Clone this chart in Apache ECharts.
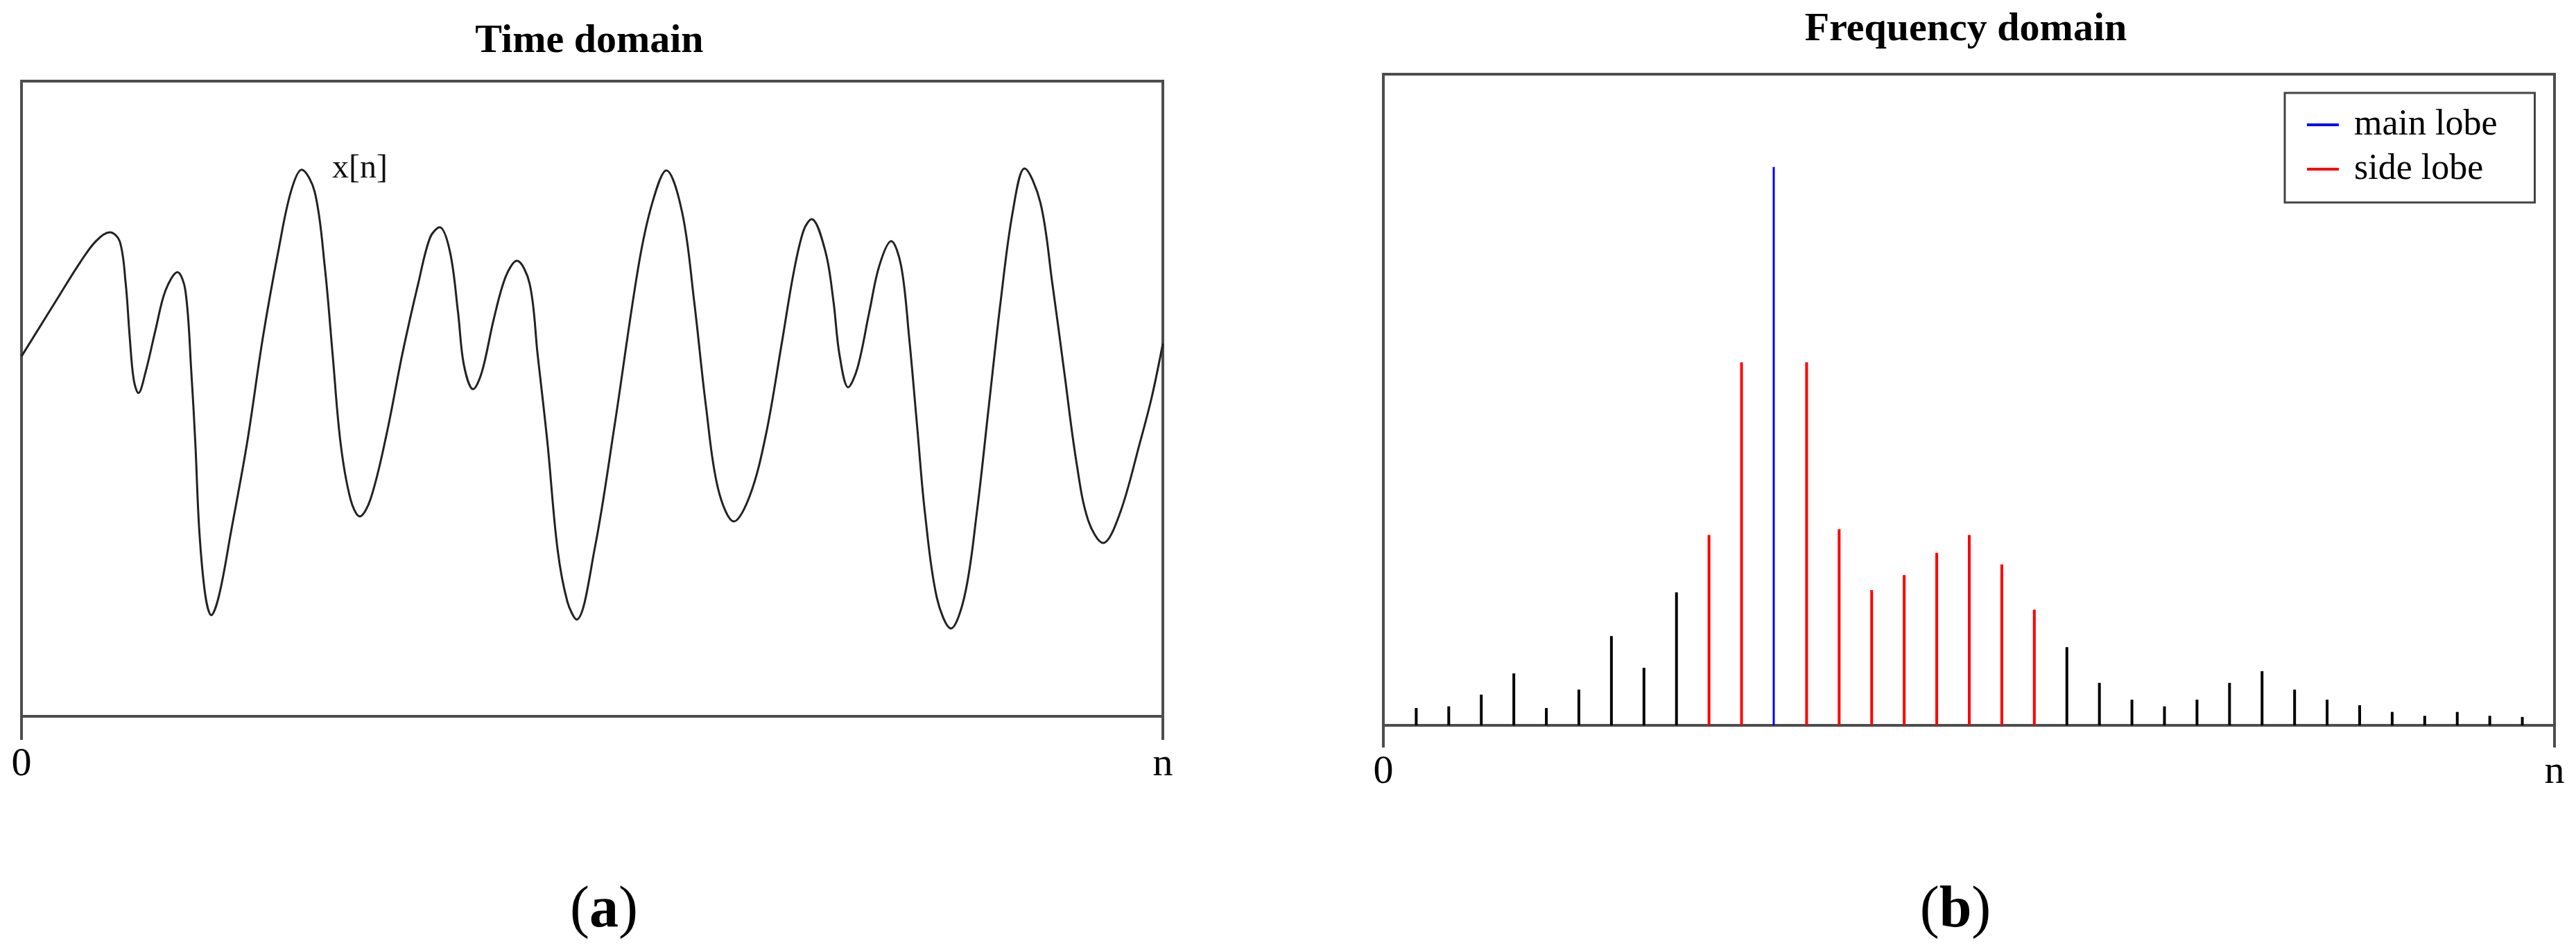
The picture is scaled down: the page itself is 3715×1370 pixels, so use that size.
<!DOCTYPE html>
<html>
<head>
<meta charset="utf-8">
<title>Time domain / Frequency domain</title>
<script src="https://cdn.jsdelivr.net/npm/echarts@6/dist/echarts.min.js"></script>
<style>
  html, body { margin: 0; padding: 0; background: #fff; }
  #chart { width: 3715px; height: 1370px; }
</style>
</head>
<body>
<div id="chart"></div>
<script>
// (a) time-domain signal x[n], sample position 0..200 and amplitude
const timeN = [0, 6.75, 10.24, 13.03, 15.47, 17.21, 18.26, 18.96, 19.65, 20.49,
  21.74, 23.49, 25.23, 27.33, 28.72, 29.76, 30.46, 31.16, 32.20, 33.25,
  34.64, 36.74, 39.53, 42.32, 45.10, 47.20, 49.09, 51.38, 53.13, 54.52,
  55.91, 57.66, 59.27, 61.15, 63.93, 66.72, 69.52, 71.61, 73.28, 75.09,
  76.49, 77.53, 79.14, 80.67, 82.76, 84.85, 86.80, 89.04, 90.44, 92.17,
  93.92, 95.66, 97.26, 100.44, 103.93, 108.12, 110.55, 112.99, 115.78, 117.87,
  119.97, 122.06, 124.85, 127.64, 130.42, 133.21, 135.30, 137.05, 138.45, 140.89,
  142.28, 143.33, 144.86, 146.47, 148.56, 150.31, 152.40, 154.14, 155.53, 156.93,
  158.32, 160.41, 162.86, 165.30, 167.39, 169.48, 171.58, 173.67, 175.76, 178.54,
  180.64, 182.73, 184.82, 186.91, 189.55, 192.48, 195.97, 198.07, 200];
const timeX = [56.9, 66.7, 71.7, 75.1, 76.5, 75.1, 68.4, 60.0, 53.3, 51.1,
  54.4, 61.1, 67.3, 70.2, 67.3, 54.4, 43.2, 29.3, 19.2, 16.0,
  19.2, 29.3, 43.2, 60.0, 74.0, 82.9, 86.4, 82.9, 71.2, 57.2,
  43.2, 34.3, 31.6, 34.3, 44.4, 57.2, 68.4, 75.7, 77.3, 73.4,
  63.9, 55.5, 51.7, 54.4, 62.8, 69.5, 72.0, 68.4, 57.2, 43.2,
  26.5, 18.1, 15.3, 26.5, 46.0, 71.2, 81.2, 86.3, 79.6, 65.6,
  48.8, 36.0, 30.8, 34.9, 44.4, 58.9, 70.1, 76.8, 78.6, 73.4,
  65.6, 57.2, 52.0, 55.0, 63.9, 71.2, 75.1, 71.2, 60.0, 46.0,
  32.1, 18.7, 13.9, 19.2, 32.1, 48.8, 65.6, 79.6, 86.6, 81.2,
  68.4, 54.4, 40.4, 31.0, 27.4, 32.1, 43.2, 50.5, 58.9];

// (b) spectrum: bin index and magnitude (main lobe = 100)
const specBins = [1, 2, 3, 4, 5, 6, 7, 8, 9, 10, 11, 12, 13, 14, 15, 16, 17, 18,
  19, 20, 21, 22, 23, 24, 25, 26, 27, 28, 29, 30, 31, 32, 33, 34, 35];
const specMag = [3.1, 3.4, 5.5, 9.3, 3.1, 6.4, 16.0, 10.3, 23.8, 34.1, 65.0, 100,
  65.0, 35.1, 24.2, 26.9, 30.9, 34.1, 28.8, 20.7, 14.0, 7.6, 4.6, 3.4, 4.6,
  7.6, 9.7, 6.4, 4.6, 3.6, 2.4, 1.7, 2.4, 1.7, 1.5];
const mainLobeBins = [12];
const sideLobeBins = [10, 11, 13, 14, 15, 16, 17, 18, 19, 20];

const serif = 'Liberation Serif';
const frameColor = '#4d4d4d';

const timeData = timeN.map((n, i) => [n, timeX[i]]);
const pick = (test) => specBins
  .map((b, i) => [b, specMag[i]])
  .filter(p => test(p[0]));
const mainData = pick(b => mainLobeBins.includes(b));
const sideData = pick(b => sideLobeBins.includes(b));
const otherData = pick(b => !mainLobeBins.includes(b) && !sideLobeBins.includes(b));

// 0 ... n axis with a tick at each end only
function endAxis(gridIndex, max, labelMargin, tickLen) {
  return {
    type: 'value',
    gridIndex: gridIndex,
    min: 0,
    max: max,
    interval: max,
    axisLine: { show: true, lineStyle: { color: frameColor, width: 4 } },
    axisTick: { show: true, inside: false, length: tickLen, lineStyle: { color: frameColor, width: 4 } },
    axisLabel: {
      show: true,
      margin: labelMargin,
      showMinLabel: true,
      showMaxLabel: true,
      color: '#000',
      fontFamily: serif,
      fontSize: 58,
      formatter: v => (v === 0 ? '0' : 'n')
    },
    splitLine: { show: false }
  };
}

const chart = echarts.init(document.getElementById('chart'), null, { renderer: 'canvas' });

const option = {
  backgroundColor: '#fff',
  animation: false,
  grid: [
    { left: 31, top: 117, width: 1646, height: 916, show: true, borderColor: frameColor, borderWidth: 4 },
    { left: 1995, top: 107, width: 1689, height: 939, show: true, borderColor: frameColor, borderWidth: 4 }
  ],
  xAxis: [
    endAxis(0, 200, 41, 34),
    endAxis(1, 36, 39, 32)
  ],
  yAxis: [
    { type: 'value', gridIndex: 0, min: 0, max: 100.4, show: false },
    { type: 'value', gridIndex: 1, min: 0, max: 116.6, show: false }
  ],
  legend: {
    data: ['main lobe', 'side lobe'],
    orient: 'vertical',
    left: 3295,
    top: 134,
    padding: [20, 54, 22, 32],
    itemGap: 12,
    itemWidth: 46,
    itemHeight: 4,
    icon: 'rect',
    borderColor: '#444',
    borderWidth: 3,
    backgroundColor: '#fff',
    selectedMode: false,
    textStyle: {
      fontFamily: serif,
      fontSize: 52,
      lineHeight: 52,
      color: '#000',
      padding: [0, 0, 0, 17]
    }
  },
  graphic: [
    { type: 'text', x: 850, y: 60, style: { text: 'Time domain', fontFamily: serif, fontWeight: 'bold', fontSize: 58, fill: '#000', align: 'center', verticalAlign: 'middle' } },
    { type: 'text', x: 2835, y: 43, style: { text: 'Frequency domain', fontFamily: serif, fontWeight: 'bold', fontSize: 58, fill: '#000', align: 'center', verticalAlign: 'middle' } },
    { type: 'text', x: 479, y: 243, style: { text: 'x[n]', fontFamily: serif, fontSize: 48, fill: '#111', align: 'left', verticalAlign: 'middle' } },
    {
      type: 'text', x: 871, y: 1314,
      style: {
        text: '{p|(}{b|a}{p|)}', align: 'center', verticalAlign: 'middle',
        rich: {
          p: { fontFamily: serif, fontSize: 84, fill: '#000' },
          b: { fontFamily: serif, fontSize: 84, fontWeight: 'bold', fill: '#000' }
        }
      }
    },
    {
      type: 'text', x: 2820, y: 1314,
      style: {
        text: '{p|(}{b|b}{p|)}', align: 'center', verticalAlign: 'middle',
        rich: {
          p: { fontFamily: serif, fontSize: 84, fill: '#000' },
          b: { fontFamily: serif, fontSize: 84, fontWeight: 'bold', fill: '#000' }
        }
      }
    }
  ],
  series: [
    {
      name: 'x[n]',
      type: 'line',
      xAxisIndex: 0,
      yAxisIndex: 0,
      data: timeData,
      smooth: 0.35,
      showSymbol: false,
      lineStyle: { color: '#222', width: 3 },
      emphasis: { disabled: true }
    },
    {
      name: 'other',
      type: 'bar',
      xAxisIndex: 1,
      yAxisIndex: 1,
      data: otherData,
      barWidth: 4,
      barGap: '-100%',
      itemStyle: { color: '#000' },
      emphasis: { disabled: true }
    },
    {
      name: 'side lobe',
      type: 'bar',
      xAxisIndex: 1,
      yAxisIndex: 1,
      data: sideData,
      barWidth: 4,
      barGap: '-100%',
      itemStyle: { color: '#ff0000' },
      emphasis: { disabled: true }
    },
    {
      name: 'main lobe',
      type: 'bar',
      xAxisIndex: 1,
      yAxisIndex: 1,
      data: mainData,
      barWidth: 3,
      barGap: '-100%',
      itemStyle: { color: '#0000ff' },
      emphasis: { disabled: true }
    }
  ]
};

chart.setOption(option);
</script>
</body>
</html>
